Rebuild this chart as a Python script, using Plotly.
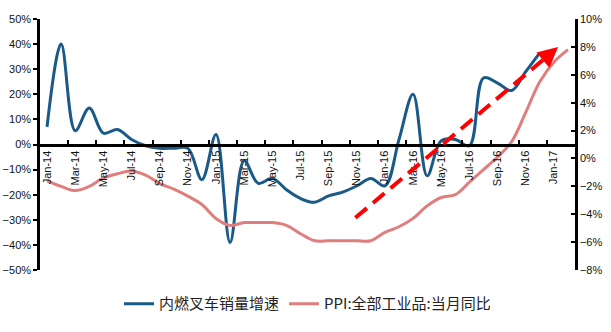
import plotly.graph_objects as go

months = ["Jan-14", "Feb-14", "Mar-14", "Apr-14", "May-14", "Jun-14", "Jul-14", "Aug-14",
          "Sep-14", "Oct-14", "Nov-14", "Dec-14", "Jan-15", "Feb-15", "Mar-15", "Apr-15",
          "May-15", "Jun-15", "Jul-15", "Aug-15", "Sep-15", "Oct-15", "Nov-15", "Dec-15",
          "Jan-16", "Feb-16", "Mar-16", "Apr-16", "May-16", "Jun-16", "Jul-16", "Aug-16",
          "Sep-16", "Oct-16", "Nov-16", "Dec-16", "Jan-17", "Feb-17"]

forklift_growth = [7, 40, 5.5, 14.5, 4.5, 6, 2, -0.5, -1.5, -1.5, -1.5, -14,
                   4, -39, -6.5, -15.5, -13.5, -18, -21.5, -23, -20.5, -19, -16.5, -13.5,
                   -16.5, 2, 20, -12.5, 1.5, 2, -0.5, 26.5, 24.5, 21.5, 29, 36.5]

ppi_yoy = [-1.6, -2.0, -2.3, -2.0, -1.4, -1.1, -0.9, -1.2, -1.8, -2.2, -2.7, -3.3,
           -4.3, -4.8, -4.6, -4.6, -4.6, -4.8, -5.4, -5.9, -5.9, -5.9, -5.9, -5.9,
           -5.3, -4.9, -4.3, -3.4, -2.8, -2.6, -1.7, -0.8, 0.1, 1.2, 3.3, 5.5,
           6.9, 7.8]

name_forklift = "内燃叉车销量增速"
name_ppi = "PPI:全部工业品:当月同比"

# trend arrow (index on month axis, value on left axis)
arrow_start = (21.9, -29.2)
arrow_tail = (35.55, 35.2)
arrow_tip = (36.3, 38.8)

BLUE = "#1A5A87"
PINK = "#E07D7D"
tick_font = dict(family="Liberation Sans, Arial", size=11, color="#111111")

fig = go.Figure()
fig.add_trace(go.Scatter(x=months[:len(forklift_growth)], y=forklift_growth, name=name_forklift,
                         mode="lines", line=dict(color=BLUE, width=3, shape="spline", smoothing=1.0),
                         yaxis="y"))
fig.add_trace(go.Scatter(x=months, y=ppi_yoy, name=name_ppi,
                         mode="lines", line=dict(color=PINK, width=3, shape="spline", smoothing=1.0),
                         yaxis="y2"))

fig.add_shape(type="line", xref="x", yref="y",
              x0=arrow_start[0], y0=arrow_start[1], x1=arrow_tail[0], y1=arrow_tail[1],
              line=dict(color="#FF0000", width=4, dash="15px,8px"))
fig.add_annotation(x=arrow_tip[0], y=arrow_tip[1], ax=arrow_tail[0], ay=arrow_tail[1],
                   xref="x", yref="y", axref="x", ayref="y", text="", showarrow=True,
                   arrowhead=2, arrowsize=1, arrowwidth=4, arrowcolor="#FF0000")

fig.update_layout(
    width=611, height=332,
    margin=dict(l=40, r=36, t=19, b=62, autoexpand=False),
    paper_bgcolor="white", plot_bgcolor="white",
    showlegend=True,
    legend=dict(orientation="h", x=0.5, xanchor="center", y=-0.135, yanchor="middle",
                font=dict(family="Noto Sans CJK SC", size=15, color="#222222"),
                bgcolor="rgba(0,0,0,0)"),
    xaxis=dict(type="category", range=[-0.5, 37.5], anchor="free", position=0.5,
               dtick=2, tickangle=-90, tickson="boundaries", automargin=False,
               showline=True, linecolor="black", linewidth=2.5,
               ticks="inside", ticklen=4, tickwidth=1.5, tickcolor="black",
               showgrid=False, zeroline=False, tickfont=tick_font),
    yaxis=dict(range=[-50, 50], dtick=10, ticksuffix="%", showgrid=False, zeroline=False,
               showline=True, linecolor="black", linewidth=2.5, automargin=False,
               ticks="outside", ticklen=4, tickwidth=2, tickcolor="black",
               tickfont=tick_font),
    yaxis2=dict(range=[-8, 10], dtick=2, ticksuffix="%", overlaying="y", side="right",
                anchor="x", showgrid=False, zeroline=False, automargin=False,
                showline=True, linecolor="black", linewidth=2.5,
                ticks="inside", ticklen=4, tickwidth=2, tickcolor="black",
                tickfont=tick_font),
)

fig.write_html("out.html", config={"displayModeBar": False},
               post_script="document.body.style.margin='0';")
